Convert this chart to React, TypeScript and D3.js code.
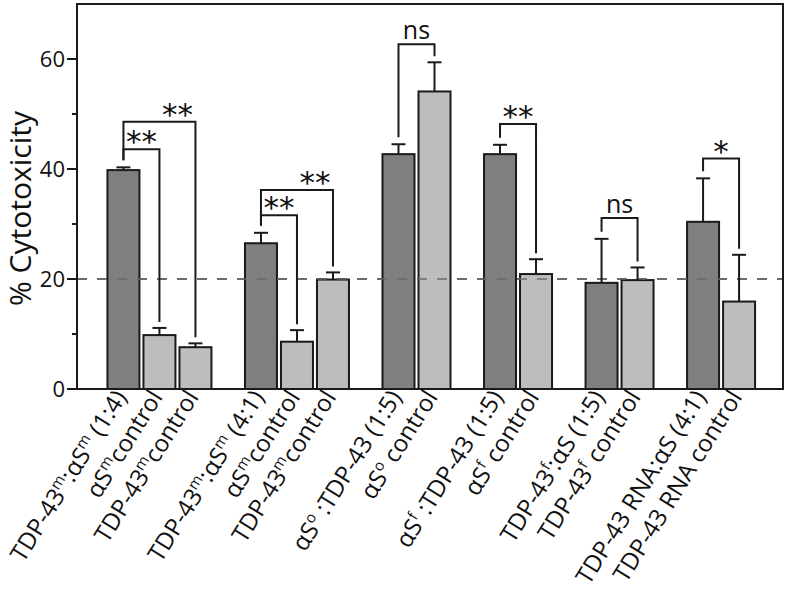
import React from 'react';
import * as d3 from 'd3';

const labels = [
  'TDP-43^m:αS^m (1:4)',
  'αS^mcontrol',
  'TDP-43^mcontrol',
  'TDP-43^m:αS^m (4:1)',
  'αS^mcontrol',
  'TDP-43^mcontrol',
  'αS^o :TDP-43 (1:5)',
  'αS^o control',
  'αS^f :TDP-43 (1:5)',
  'αS^f control',
  'TDP-43^f:αS (1:5)',
  'TDP-43^f control',
  'TDP-43 RNA:αS (4:1)',
  'TDP-43 RNA control',
];
const values = [39.8, 9.8, 7.6, 26.5, 8.6, 19.9, 42.7, 54.1, 42.7, 20.9, 19.3, 19.8, 30.4, 15.9];
const errors = [0.5, 1.3, 0.7, 1.9, 2.1, 1.3, 1.8, 5.3, 1.7, 2.7, 8.0, 2.3, 7.9, 8.5];
const groups = [0, 0, 0, 1, 1, 1, 2, 2, 3, 3, 4, 4, 5, 5];
const isTest = [true, false, false, true, false, false, true, false, true, false, true, false, true, false];

const compFrom = [0, 0, 3, 3, 6, 8, 10, 12];
const compTo = [1, 2, 4, 5, 7, 9, 11, 13];
const compLevel = [43.6, 48.6, 31.6, 36.2, 62.7, 48.2, 31.1, 41.9];
const compText = ['**', '**', '**', '**', 'ns', '**', 'ns', '*'];

const yTicks = [0, 20, 40, 60];
const yMinorTicks = [10, 30, 50];
const refLine = 20;
const yLabel = '% Cytotoxicity';

const W = 789;
const H = 603;
const PL = 77, PR = 783, PT = 4, PB = 389;
const GROUP_GAP = 0.82;
const BAR_W = 32;
const FONT = '"Open Sans", "Noto Sans", sans-serif';

function parts(s: string) {
  const out: { t: string; sup: boolean }[] = [];
  const re = /\^(.)/g;
  let last = 0;
  let m: RegExpExecArray | null;
  while ((m = re.exec(s))) {
    if (m.index > last) out.push({ t: s.slice(last, m.index), sup: false });
    out.push({ t: m[1], sup: true });
    last = m.index + 2;
  }
  if (last < s.length) out.push({ t: s.slice(last), sup: false });
  return out;
}

export default function App() {
  const pos = values.map((_, i) => i + groups[i] * GROUP_GAP);
  const maxPos = d3.max(pos) as number;
  const x = d3.scaleLinear().domain([-1.29, maxPos + 1.22]).range([PL, PR]);
  const y = d3.scaleLinear().domain([0, 70]).range([PB, PT]);
  const cx = (i: number) => x(pos[i]);
  const cap = (i: number) => y(values[i] + errors[i]);
  const legGap = 6;

  return (
    <svg width={W} height={H} style={{ position: 'absolute', left: 0, top: 0, background: '#fff' }} fontFamily={FONT}>
      <line x1={PL} x2={PR} y1={y(refLine)} y2={y(refLine)} stroke="#777" strokeWidth={2} strokeDasharray="10,10" />
      {values.map((v, i) => (
        <rect key={'b' + i} x={cx(i) - BAR_W / 2} y={y(v)} width={BAR_W} height={y(0) - y(v)}
          fill={isTest[i] ? '#7f7f7f' : '#bdbdbd'} stroke="#1a1a1a" strokeWidth={2} />
      ))}
      <line x1={PL} x2={PR} y1={y(refLine)} y2={y(refLine)} stroke="#666" strokeOpacity={0.7} strokeWidth={2} strokeDasharray="10,10" />
      {values.map((v, i) => (
        <g key={'e' + i} stroke="#1a1a1a" strokeWidth={2}>
          <line x1={cx(i)} x2={cx(i)} y1={y(v)} y2={cap(i)} />
          <line x1={cx(i) - 7} x2={cx(i) + 7} y1={cap(i)} y2={cap(i)} />
        </g>
      ))}
      {compFrom.map((f, k) => {
        const t = compTo[k];
        const yl = y(compLevel[k]);
        const lx = (cx(t - 1) + cx(t)) / 2;
        const isStar = compText[k] !== 'ns';
        return (
          <g key={'c' + k}>
            <path d={`M${cx(f)},${cap(f) - legGap - 1}V${yl}H${cx(t)}V${cap(t) - legGap}`}
              fill="none" stroke="#1a1a1a" strokeWidth={2} />
            {isStar ? (
              <text x={lx} y={yl + 3} textAnchor="middle" fontSize={31} fontFamily='"DejaVu Sans", sans-serif' fill="#111">{compText[k]}</text>
            ) : (
              <text x={lx} y={yl - 5} textAnchor="middle" fontSize={25} fill="#111">{compText[k]}</text>
            )}
          </g>
        );
      })}
      <rect x={PL} y={PT} width={PR - PL} height={PB - PT} fill="none" stroke="#1a1a1a" strokeWidth={2} />
      {yTicks.map((t) => (
        <g key={'t' + t}>
          <line x1={PL - 10} x2={PL} y1={y(t)} y2={y(t)} stroke="#1a1a1a" strokeWidth={2} />
          <text x={PL - 12} y={y(t)} dy="0.36em" textAnchor="end" fontSize={22} fill="#111">{t}</text>
        </g>
      ))}
      {yMinorTicks.map((t) => (
        <line key={'m' + t} x1={PL - 5} x2={PL} y1={y(t)} y2={y(t)} stroke="#1a1a1a" strokeWidth={2} />
      ))}
      <text transform={`translate(31,${(PT + PB) / 2 + 12}) rotate(-90)`} textAnchor="middle" fontSize={30} fill="#111">{yLabel}</text>
      {labels.map((s, i) => (
        <text key={'l' + i} transform={`translate(${cx(i) + 4},${PB + 8}) rotate(-58)`} textAnchor="end" dy="0.35em" fontSize={24} fill="#111">
          {parts(s).map((p, j, arr) => {
            const prevSup = j > 0 && arr[j - 1].sup;
            if (p.sup) return <tspan key={j} fontSize={15} dy={-9}>{p.t}</tspan>;
            return <tspan key={j} dy={prevSup ? 9 : 0}>{p.t}</tspan>;
          })}
        </text>
      ))}
    </svg>
  );
}
